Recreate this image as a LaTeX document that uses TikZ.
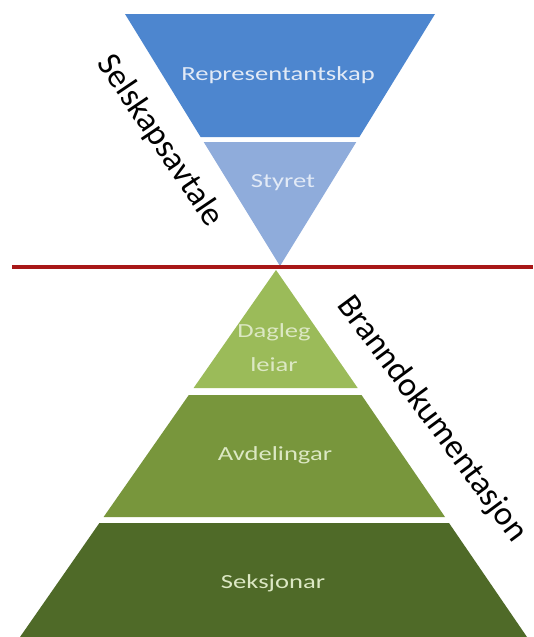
\documentclass[tikz,border=0pt]{standalone}
\usepackage{fontspec}
\setmainfont{Carlito}
\definecolor{bluetop}{HTML}{4D86CF}
\definecolor{bluelow}{HTML}{8FACDB}
\definecolor{gtop}{HTML}{9BBB59}
\definecolor{gmid}{HTML}{78963C}
\definecolor{gbot}{HTML}{4F6A28}
\definecolor{redline}{HTML}{A81818}
\definecolor{btext}{HTML}{E2EAF6}
\definecolor{gtext}{HTML}{DCE8C4}
\tikzset{
  bandlabel/.style={inner sep=0pt, font=\fontsize{20}{24}\selectfont, align=center},
  sidelabel/.style={inner sep=0pt, font=\fontsize{34}{40}\selectfont, text=black}
}
\begin{document}
\begin{tikzpicture}[x=1pt,y=-1pt]
\useasboundingbox (0,0) rectangle (533,637);
\fill[white] (0,0) rectangle (533,637);
% inverted triangle
\fill[bluetop] (125,14) -- (435,14) -- (359.4,137) -- (200.6,137) -- cycle;
\fill[bluelow] (203.7,142) -- (356.3,142) -- (280,266) -- cycle;
% red line
\coordinate (rl) at (12,267);
\coordinate (rr) at (533,267);
\draw[redline, line width=4pt] (rl) -- (rr);
% pyramid
\fill[gtop] (276,270) -- (357.7,388) -- (193.6,388) -- cycle;
\fill[gmid] (188.8,395) -- (361.5,395) -- (445,517) -- (103.6,517) -- cycle;
\fill[gbot] (99.4,523) -- (449,523) -- (527,637) -- (20,637) -- cycle;
% labels
\node[bandlabel, text=btext] (rep) at (278,75) {\scalebox{1.33}[1]{Representantskap}};
\node[bandlabel, text=btext] (sty) at (283,183) {\scalebox{1.33}[1]{Styret}};
\node[bandlabel, text=gtext] (dl1) at (274,332) {\scalebox{1.33}[1]{Dagleg}};
\node[bandlabel, text=gtext] (dl2) at (274,365) {\scalebox{1.33}[1]{leiar}};
\node[bandlabel, text=gtext] (avd) at (275,455) {\scalebox{1.33}[1]{Avdelingar}};
\node[bandlabel, text=gtext] (sek) at (273,583) {\scalebox{1.33}[1]{Seksjonar}};
\node[sidelabel, rotate=-56] (sel) at (160,141) {Selskapsavtale};
\node[sidelabel, rotate=-53.5] (bra) at (432,419) {Branndokumentasjon};
\end{tikzpicture}
\end{document}
